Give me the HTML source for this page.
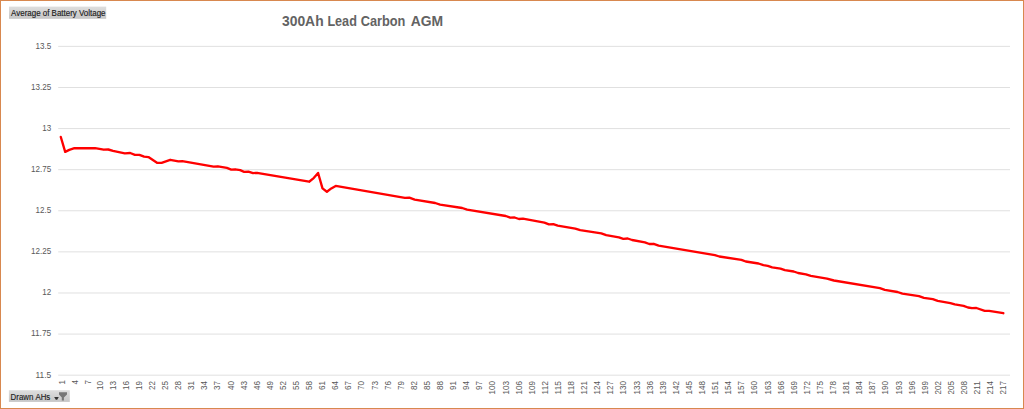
<!DOCTYPE html>
<html><head><meta charset="utf-8"><style>
html,body{margin:0;padding:0;background:#fff;}
body{width:1024px;height:409px;overflow:hidden;position:relative;}
svg{position:absolute;left:0;top:0;}
.ax{font-family:"Liberation Sans",sans-serif;font-size:8.4px;fill:#595959;}
.title{font-family:"Liberation Sans",sans-serif;font-size:14px;font-weight:bold;fill:#636363;}
.btn{font-family:"Liberation Sans",sans-serif;font-size:8.8px;fill:#1A1A1A;stroke:#1A1A1A;stroke-width:0.15px;}
</style></head><body>
<svg width="1024" height="409" viewBox="0 0 1024 409">
<defs>
<linearGradient id="bg" x1="0" y1="0" x2="0" y2="1">
<stop offset="0" stop-color="#DEDEDE"/><stop offset="1" stop-color="#C6C6C6"/>
</linearGradient>
</defs>
<rect x="0.5" y="0.5" width="1023" height="408" fill="#fff" stroke="#D8884F" stroke-width="1"/>
<rect x="9" y="6.6" width="97.2" height="12.2" fill="url(#bg)"/>
<text x="11.11" y="15.8" textLength="94.38" lengthAdjust="spacingAndGlyphs" class="btn" style="font-size:8.8px">Average&#160;of&#160;Battery&#160;Voltage</text>
<text x="282.00" y="25.5" textLength="41.61" lengthAdjust="spacingAndGlyphs" class="title" style="font-size:14px">300Ah</text>
<text x="327.39" y="25.5" textLength="29.49" lengthAdjust="spacingAndGlyphs" class="title" style="font-size:14px">Lead</text>
<text x="360.75" y="25.5" textLength="44.67" lengthAdjust="spacingAndGlyphs" class="title" style="font-size:14px">Carbon</text>
<text x="410.70" y="25.5" textLength="32.45" lengthAdjust="spacingAndGlyphs" class="title" style="font-size:14px">AGM</text>
<line x1="58.2" y1="46.37" x2="1010" y2="46.37" stroke="#E0E0E0" stroke-width="1"/>
<line x1="58.2" y1="87.47" x2="1010" y2="87.47" stroke="#E0E0E0" stroke-width="1"/>
<line x1="58.2" y1="128.57" x2="1010" y2="128.57" stroke="#E0E0E0" stroke-width="1"/>
<line x1="58.2" y1="169.67" x2="1010" y2="169.67" stroke="#E0E0E0" stroke-width="1"/>
<line x1="58.2" y1="210.77" x2="1010" y2="210.77" stroke="#E0E0E0" stroke-width="1"/>
<line x1="58.2" y1="251.87" x2="1010" y2="251.87" stroke="#E0E0E0" stroke-width="1"/>
<line x1="58.2" y1="292.97" x2="1010" y2="292.97" stroke="#E0E0E0" stroke-width="1"/>
<line x1="58.2" y1="334.07" x2="1010" y2="334.07" stroke="#E0E0E0" stroke-width="1"/>
<line x1="58.2" y1="375.17" x2="1010" y2="375.17" stroke="#E0E0E0" stroke-width="1"/>
<text x="51.15" y="48.72" text-anchor="end" textLength="15.69" lengthAdjust="spacingAndGlyphs" class="ax">13.5</text>
<text x="51.15" y="89.82" text-anchor="end" textLength="20.18" lengthAdjust="spacingAndGlyphs" class="ax">13.25</text>
<text x="51.15" y="130.92" text-anchor="end" textLength="8.97" lengthAdjust="spacingAndGlyphs" class="ax">13</text>
<text x="51.15" y="172.02" text-anchor="end" textLength="20.18" lengthAdjust="spacingAndGlyphs" class="ax">12.75</text>
<text x="51.15" y="213.12" text-anchor="end" textLength="15.69" lengthAdjust="spacingAndGlyphs" class="ax">12.5</text>
<text x="51.15" y="254.22" text-anchor="end" textLength="20.18" lengthAdjust="spacingAndGlyphs" class="ax">12.25</text>
<text x="51.15" y="295.32" text-anchor="end" textLength="8.97" lengthAdjust="spacingAndGlyphs" class="ax">12</text>
<text x="51.15" y="336.42" text-anchor="end" textLength="20.18" lengthAdjust="spacingAndGlyphs" class="ax">11.75</text>
<text x="51.15" y="377.52" text-anchor="end" textLength="15.69" lengthAdjust="spacingAndGlyphs" class="ax">11.5</text>
<text transform="translate(64.53,380.0) rotate(-90)" text-anchor="end" textLength="4.48" lengthAdjust="spacingAndGlyphs" class="ax">1</text>
<text transform="translate(77.63,380.0) rotate(-90)" text-anchor="end" textLength="4.48" lengthAdjust="spacingAndGlyphs" class="ax">4</text>
<text transform="translate(90.73,380.0) rotate(-90)" text-anchor="end" textLength="4.48" lengthAdjust="spacingAndGlyphs" class="ax">7</text>
<text transform="translate(102.53,381) rotate(-90)" text-anchor="end" textLength="8.97" lengthAdjust="spacingAndGlyphs" class="ax">10</text>
<text transform="translate(115.63,381) rotate(-90)" text-anchor="end" textLength="8.97" lengthAdjust="spacingAndGlyphs" class="ax">13</text>
<text transform="translate(128.72,381) rotate(-90)" text-anchor="end" textLength="8.97" lengthAdjust="spacingAndGlyphs" class="ax">16</text>
<text transform="translate(141.82,381) rotate(-90)" text-anchor="end" textLength="8.97" lengthAdjust="spacingAndGlyphs" class="ax">19</text>
<text transform="translate(154.92,381) rotate(-90)" text-anchor="end" textLength="8.97" lengthAdjust="spacingAndGlyphs" class="ax">22</text>
<text transform="translate(168.02,381) rotate(-90)" text-anchor="end" textLength="8.97" lengthAdjust="spacingAndGlyphs" class="ax">25</text>
<text transform="translate(181.12,381) rotate(-90)" text-anchor="end" textLength="8.97" lengthAdjust="spacingAndGlyphs" class="ax">28</text>
<text transform="translate(194.21,381) rotate(-90)" text-anchor="end" textLength="8.97" lengthAdjust="spacingAndGlyphs" class="ax">31</text>
<text transform="translate(207.31,381) rotate(-90)" text-anchor="end" textLength="8.97" lengthAdjust="spacingAndGlyphs" class="ax">34</text>
<text transform="translate(220.41,381) rotate(-90)" text-anchor="end" textLength="8.97" lengthAdjust="spacingAndGlyphs" class="ax">37</text>
<text transform="translate(233.51,381) rotate(-90)" text-anchor="end" textLength="8.97" lengthAdjust="spacingAndGlyphs" class="ax">40</text>
<text transform="translate(246.61,381) rotate(-90)" text-anchor="end" textLength="8.97" lengthAdjust="spacingAndGlyphs" class="ax">43</text>
<text transform="translate(259.71,381) rotate(-90)" text-anchor="end" textLength="8.97" lengthAdjust="spacingAndGlyphs" class="ax">46</text>
<text transform="translate(272.80,381) rotate(-90)" text-anchor="end" textLength="8.97" lengthAdjust="spacingAndGlyphs" class="ax">49</text>
<text transform="translate(285.90,381) rotate(-90)" text-anchor="end" textLength="8.97" lengthAdjust="spacingAndGlyphs" class="ax">52</text>
<text transform="translate(299.00,381) rotate(-90)" text-anchor="end" textLength="8.97" lengthAdjust="spacingAndGlyphs" class="ax">55</text>
<text transform="translate(312.10,381) rotate(-90)" text-anchor="end" textLength="8.97" lengthAdjust="spacingAndGlyphs" class="ax">58</text>
<text transform="translate(325.20,381) rotate(-90)" text-anchor="end" textLength="8.97" lengthAdjust="spacingAndGlyphs" class="ax">61</text>
<text transform="translate(338.29,381) rotate(-90)" text-anchor="end" textLength="8.97" lengthAdjust="spacingAndGlyphs" class="ax">64</text>
<text transform="translate(351.39,381) rotate(-90)" text-anchor="end" textLength="8.97" lengthAdjust="spacingAndGlyphs" class="ax">67</text>
<text transform="translate(364.49,381) rotate(-90)" text-anchor="end" textLength="8.97" lengthAdjust="spacingAndGlyphs" class="ax">70</text>
<text transform="translate(377.59,381) rotate(-90)" text-anchor="end" textLength="8.97" lengthAdjust="spacingAndGlyphs" class="ax">73</text>
<text transform="translate(390.69,381) rotate(-90)" text-anchor="end" textLength="8.97" lengthAdjust="spacingAndGlyphs" class="ax">76</text>
<text transform="translate(403.79,381) rotate(-90)" text-anchor="end" textLength="8.97" lengthAdjust="spacingAndGlyphs" class="ax">79</text>
<text transform="translate(416.88,381) rotate(-90)" text-anchor="end" textLength="8.97" lengthAdjust="spacingAndGlyphs" class="ax">82</text>
<text transform="translate(429.98,381) rotate(-90)" text-anchor="end" textLength="8.97" lengthAdjust="spacingAndGlyphs" class="ax">85</text>
<text transform="translate(443.08,381) rotate(-90)" text-anchor="end" textLength="8.97" lengthAdjust="spacingAndGlyphs" class="ax">88</text>
<text transform="translate(456.18,381) rotate(-90)" text-anchor="end" textLength="8.97" lengthAdjust="spacingAndGlyphs" class="ax">91</text>
<text transform="translate(469.28,381) rotate(-90)" text-anchor="end" textLength="8.97" lengthAdjust="spacingAndGlyphs" class="ax">94</text>
<text transform="translate(482.37,381) rotate(-90)" text-anchor="end" textLength="8.97" lengthAdjust="spacingAndGlyphs" class="ax">97</text>
<text transform="translate(495.47,381) rotate(-90)" text-anchor="end" textLength="13.45" lengthAdjust="spacingAndGlyphs" class="ax">100</text>
<text transform="translate(508.57,381) rotate(-90)" text-anchor="end" textLength="13.45" lengthAdjust="spacingAndGlyphs" class="ax">103</text>
<text transform="translate(521.67,381) rotate(-90)" text-anchor="end" textLength="13.45" lengthAdjust="spacingAndGlyphs" class="ax">106</text>
<text transform="translate(534.77,381) rotate(-90)" text-anchor="end" textLength="13.45" lengthAdjust="spacingAndGlyphs" class="ax">109</text>
<text transform="translate(547.87,381) rotate(-90)" text-anchor="end" textLength="13.45" lengthAdjust="spacingAndGlyphs" class="ax">112</text>
<text transform="translate(560.96,381) rotate(-90)" text-anchor="end" textLength="13.45" lengthAdjust="spacingAndGlyphs" class="ax">115</text>
<text transform="translate(574.06,381) rotate(-90)" text-anchor="end" textLength="13.45" lengthAdjust="spacingAndGlyphs" class="ax">118</text>
<text transform="translate(587.16,381) rotate(-90)" text-anchor="end" textLength="13.45" lengthAdjust="spacingAndGlyphs" class="ax">121</text>
<text transform="translate(600.26,381) rotate(-90)" text-anchor="end" textLength="13.45" lengthAdjust="spacingAndGlyphs" class="ax">124</text>
<text transform="translate(613.36,381) rotate(-90)" text-anchor="end" textLength="13.45" lengthAdjust="spacingAndGlyphs" class="ax">127</text>
<text transform="translate(626.45,381) rotate(-90)" text-anchor="end" textLength="13.45" lengthAdjust="spacingAndGlyphs" class="ax">130</text>
<text transform="translate(639.55,381) rotate(-90)" text-anchor="end" textLength="13.45" lengthAdjust="spacingAndGlyphs" class="ax">133</text>
<text transform="translate(652.65,381) rotate(-90)" text-anchor="end" textLength="13.45" lengthAdjust="spacingAndGlyphs" class="ax">136</text>
<text transform="translate(665.75,381) rotate(-90)" text-anchor="end" textLength="13.45" lengthAdjust="spacingAndGlyphs" class="ax">139</text>
<text transform="translate(678.85,381) rotate(-90)" text-anchor="end" textLength="13.45" lengthAdjust="spacingAndGlyphs" class="ax">142</text>
<text transform="translate(691.94,381) rotate(-90)" text-anchor="end" textLength="13.45" lengthAdjust="spacingAndGlyphs" class="ax">145</text>
<text transform="translate(705.04,381) rotate(-90)" text-anchor="end" textLength="13.45" lengthAdjust="spacingAndGlyphs" class="ax">148</text>
<text transform="translate(718.14,381) rotate(-90)" text-anchor="end" textLength="13.45" lengthAdjust="spacingAndGlyphs" class="ax">151</text>
<text transform="translate(731.24,381) rotate(-90)" text-anchor="end" textLength="13.45" lengthAdjust="spacingAndGlyphs" class="ax">154</text>
<text transform="translate(744.34,381) rotate(-90)" text-anchor="end" textLength="13.45" lengthAdjust="spacingAndGlyphs" class="ax">157</text>
<text transform="translate(757.44,381) rotate(-90)" text-anchor="end" textLength="13.45" lengthAdjust="spacingAndGlyphs" class="ax">160</text>
<text transform="translate(770.53,381) rotate(-90)" text-anchor="end" textLength="13.45" lengthAdjust="spacingAndGlyphs" class="ax">163</text>
<text transform="translate(783.63,381) rotate(-90)" text-anchor="end" textLength="13.45" lengthAdjust="spacingAndGlyphs" class="ax">166</text>
<text transform="translate(796.73,381) rotate(-90)" text-anchor="end" textLength="13.45" lengthAdjust="spacingAndGlyphs" class="ax">169</text>
<text transform="translate(809.83,381) rotate(-90)" text-anchor="end" textLength="13.45" lengthAdjust="spacingAndGlyphs" class="ax">172</text>
<text transform="translate(822.93,381) rotate(-90)" text-anchor="end" textLength="13.45" lengthAdjust="spacingAndGlyphs" class="ax">175</text>
<text transform="translate(836.02,381) rotate(-90)" text-anchor="end" textLength="13.45" lengthAdjust="spacingAndGlyphs" class="ax">178</text>
<text transform="translate(849.12,381) rotate(-90)" text-anchor="end" textLength="13.45" lengthAdjust="spacingAndGlyphs" class="ax">181</text>
<text transform="translate(862.22,381) rotate(-90)" text-anchor="end" textLength="13.45" lengthAdjust="spacingAndGlyphs" class="ax">184</text>
<text transform="translate(875.32,381) rotate(-90)" text-anchor="end" textLength="13.45" lengthAdjust="spacingAndGlyphs" class="ax">187</text>
<text transform="translate(888.42,381) rotate(-90)" text-anchor="end" textLength="13.45" lengthAdjust="spacingAndGlyphs" class="ax">190</text>
<text transform="translate(901.52,381) rotate(-90)" text-anchor="end" textLength="13.45" lengthAdjust="spacingAndGlyphs" class="ax">193</text>
<text transform="translate(914.61,381) rotate(-90)" text-anchor="end" textLength="13.45" lengthAdjust="spacingAndGlyphs" class="ax">196</text>
<text transform="translate(927.71,381) rotate(-90)" text-anchor="end" textLength="13.45" lengthAdjust="spacingAndGlyphs" class="ax">199</text>
<text transform="translate(940.81,381) rotate(-90)" text-anchor="end" textLength="13.45" lengthAdjust="spacingAndGlyphs" class="ax">202</text>
<text transform="translate(953.91,381) rotate(-90)" text-anchor="end" textLength="13.45" lengthAdjust="spacingAndGlyphs" class="ax">205</text>
<text transform="translate(967.01,381) rotate(-90)" text-anchor="end" textLength="13.45" lengthAdjust="spacingAndGlyphs" class="ax">208</text>
<text transform="translate(980.10,381) rotate(-90)" text-anchor="end" textLength="13.45" lengthAdjust="spacingAndGlyphs" class="ax">211</text>
<text transform="translate(993.20,381) rotate(-90)" text-anchor="end" textLength="13.45" lengthAdjust="spacingAndGlyphs" class="ax">214</text>
<text transform="translate(1006.30,381) rotate(-90)" text-anchor="end" textLength="13.45" lengthAdjust="spacingAndGlyphs" class="ax">217</text>
<polyline points="60.8,137.0 65.2,151.9 69.3,149.9 74.4,148.2 95.1,148.2 103.7,149.7 108.3,149.5 113.0,150.9 124.8,153.3 130.2,153.0 134.9,154.8 139.4,154.8 144.1,156.6 148.4,157.1 157.0,162.8 161.6,162.8 170.2,159.8 178.4,161.4 182.3,161.2 213.6,166.6 217.9,166.3 226.9,167.9 231.2,169.6 235.1,169.3 240.2,170.2 244.1,171.8 248.4,171.6 253.0,173.1 257.0,172.8 309.1,181.7 313.7,178.1 318.1,173.0 322.5,188.4 326.9,191.8 331.3,188.4 335.7,185.9 404.9,197.9 409.3,197.6 414.7,199.6 435.2,203.0 440.1,204.7 462.2,208.0 467.1,209.7 505.8,216.0 510.2,217.7 514.6,217.5 519.0,219.0 522.9,218.7 544.4,222.6 548.9,224.3 553.3,224.1 557.7,225.6 575.3,228.7 580.2,230.2 601.3,233.4 606.2,235.1 618.9,237.3 623.3,238.8 627.7,238.5 632.1,240.0 644.9,242.3 649.3,244.0 653.7,243.8 658.6,245.6 714.9,255.1 719.3,256.5 741.4,259.8 745.8,261.5 758.5,263.5 763.4,265.2 767.8,265.9 772.2,267.3 780.5,268.6 784.9,270.1 793.7,271.5 798.1,273.0 805.9,274.3 810.8,275.9 827.0,278.6 833.9,280.5 879.9,288.1 884.8,289.8 897.5,292.0 902.4,293.7 919.0,296.2 923.9,297.9 932.8,299.2 937.7,300.9 950.4,303.1 954.8,304.4 963.6,305.8 968.0,307.5 972.0,308.2 976.4,308.0 984.7,310.9 989.1,310.9 1003.3,313.2" fill="none" stroke="#FF0000" stroke-width="2.35" stroke-linejoin="round" stroke-linecap="round"/>
<rect x="8.9" y="390.2" width="60.9" height="11.7" fill="url(#bg)"/>
<text x="10.61" y="399.7" textLength="39.66" lengthAdjust="spacingAndGlyphs" class="btn" style="font-size:9.2px">Drawn&#160;AHs</text>
<path d="M54.2,397 L58.8,397 L57.2,399.8 L55.8,399.8 Z" fill="#333"/>
<path d="M59,392.3 L67,392.3 L67,394.4 L63.9,397.6 L63.9,400.6 L61.8,400.6 L61.8,397.6 L59,394.4 Z" fill="#777"/>
</svg>
</body></html>
